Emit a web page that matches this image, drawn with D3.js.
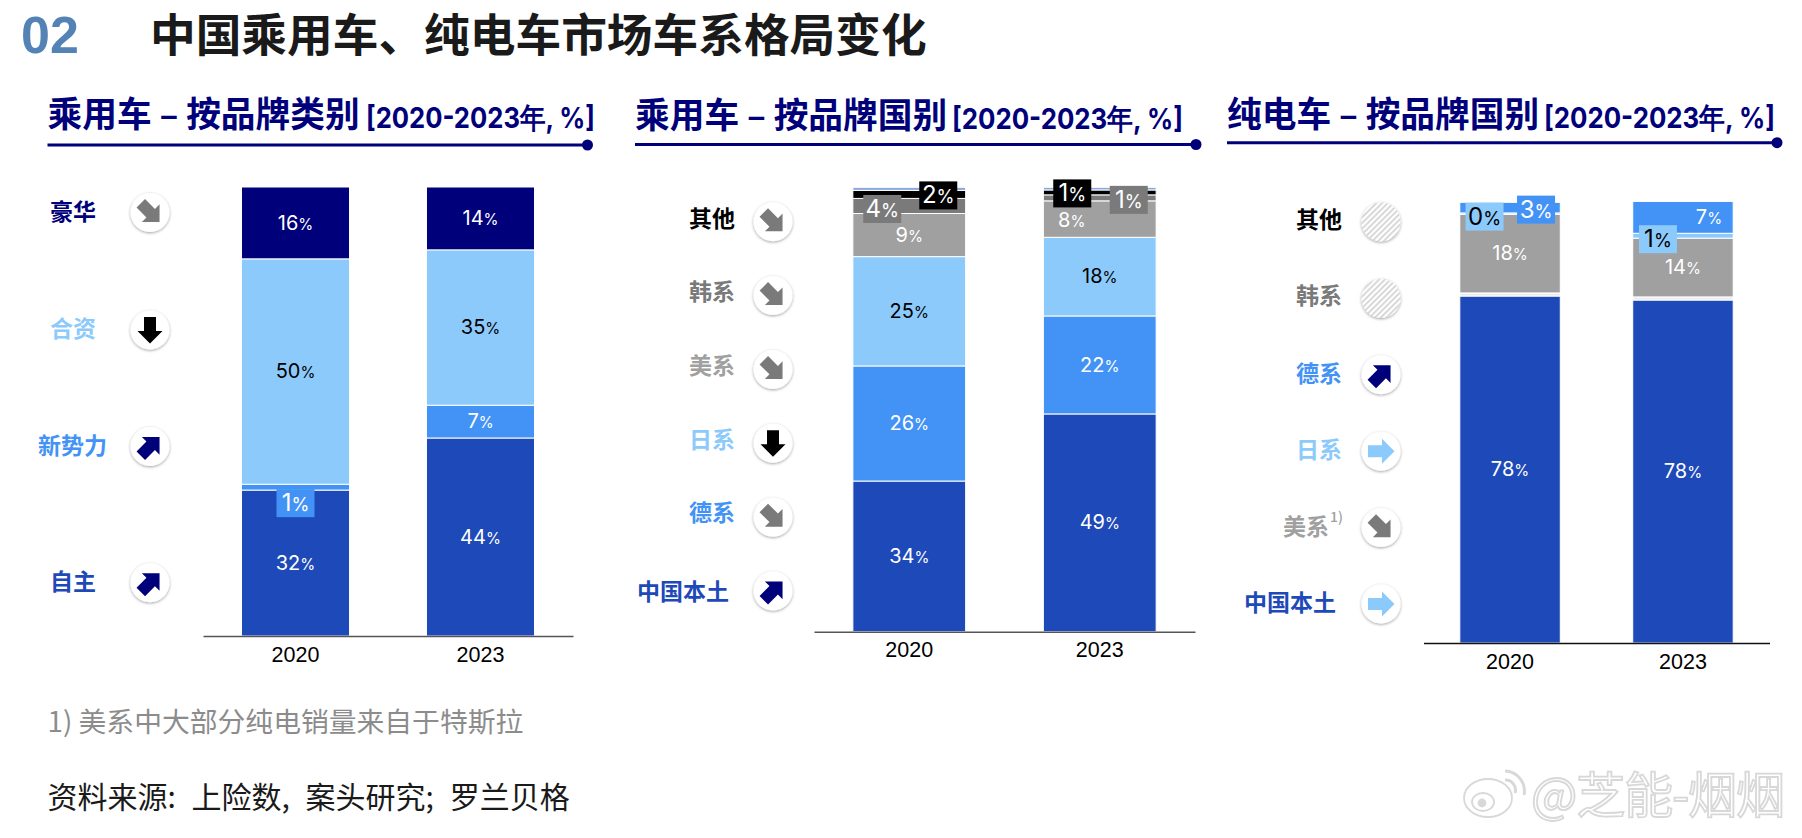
<!DOCTYPE html>
<html>
<head>
<meta charset="utf-8">
<script src="https://cdn.jsdelivr.net/npm/d3@7"></script>
<style>
  html, body { margin: 0; padding: 0; background: #fff; }
  svg { display: block; }
  text { font-family: "Noto Sans CJK SC", sans-serif; }
  .pct { font-family: Inter, sans-serif; }
  .year { font-family: "Liberation Sans", sans-serif; font-size: 21.5px; fill: #000; }
</style>
</head>
<body>
<div id="chart"></div>
<script>
// Data: shares in percent, bottom segment first
const years = ['2020', '2023'];

// Passenger cars by brand type
const typeNames = ['自主', '新势力', '合资', '豪华'];
const typeOwn = [32.5, 44.1];
const typeNew = [1.3, 7.3];
const typeJv = [50.2, 34.6];
const typeLuxury = [16.0, 14.0];
const typeLabels = [['32', '1', '50', '16'], ['44', '7', '35', '14']];

// Passenger cars by brand country
const carNames = ['中国本土', '德系', '日系', '美系', '韩系', '其他', '边缘'];
const carChina = [33.9, 49.0];
const carGerman = [25.9, 22.05];
const carJapan = [24.6, 17.7];
const carUs = [9.7, 8.2];
const carKorea = [3.4, 1.35];
const carOther = [1.8, 1.1];
const carEdge = [0.7, 0.6];
const carLabels = [['34', '26', '25', '9', '4', '2', ''], ['49', '22', '18', '8', '1', '1', '']];

// Battery electric cars by brand country
const evNames = ['中国本土', '间隙', '美系', '日系', '德系'];
const evChina = [78.5, 77.6];
const evGap = [0.7, 0.7];
const evUs = [17.8, 13.3];
const evJapan = [0.3, 1.1];
const evGerman = [2.4, 7.2];
const evLabels = [['78', '', '18', '0', '3'], ['78', '', '14', '1', '7']];

// Trend icons
const NAVY = '#00007a', DARK = '#1e49b8', BLUE = '#4293f5', SKY = '#8ccafb';
const GREY = '#a0a0a0', SLATE = '#7a7a7a', BLACK = '#000';
const UP = -45, FALL = 45, DROP = 90, FLAT = 0;

const panels = [
  {
    title: '乘用车 – 按品牌类别', unit: '[2020-2023年, %]',
    titleX: 47.5, titleY: 115, unitX: 366, unitW: 229,
    ruleY: 145, ruleEnd: 587.5,
    axis: [203, 573], baseline: 636, top: 187, padInner: 0.416, padOuter: 0.208, axisColor: '#555',
    series: typeNames,
    values: [typeOwn, typeNew, typeJv, typeLuxury],
    labels: typeLabels,
    colors: [DARK, BLUE, SKY, NAVY],
    inks: ['#fff', '#fff', '#000', '#fff'],
    callouts: [{year: 0, seg: 1, dx: 0, dy: 16, box: true}],
    legendX: 150, legendText: 96,
    legend: [
      {name: '豪华', y: 212.5, color: NAVY, turn: FALL, ink: SLATE},
      {name: '合资', y: 330, color: SKY, turn: DROP, ink: BLACK},
      {name: '新势力', y: 446.5, color: BLUE, turn: UP, ink: NAVY, x: 107},
      {name: '自主', y: 582.7, color: DARK, turn: UP, ink: NAVY}
    ]
  },
  {
    title: '乘用车 – 按品牌国别', unit: '[2020-2023年, %]',
    titleX: 635, titleY: 116, unitX: 952, unitW: 231,
    ruleY: 144.5, ruleEnd: 1196,
    axis: [814, 1195], baseline: 631.7, top: 187.3, padInner: 0.408, padOuter: 0.204, axisColor: '#555',
    series: carNames,
    values: [carChina, carGerman, carJapan, carUs, carKorea, carOther, carEdge],
    labels: carLabels,
    colors: [DARK, BLUE, SKY, GREY, SLATE, BLACK, '#8aa9dd'],
    inks: ['#fff', '#fff', '#000', '#fff', '#fff', '#fff', '#fff'],
    callouts: [
      {year: 0, seg: 5, dx: 29, dy: 1, box: true},
      {year: 0, seg: 4, dx: -27, dy: 3, box: true},
      {year: 1, seg: 5, dx: -27.5, dy: 1, box: true},
      {year: 1, seg: 4, dx: 29, dy: 2, box: true},
      {year: 1, seg: 3, dx: -28, dy: 1}
    ],
    legendX: 773, legendText: 735,
    legendRange: [221.7, 591],
    legend: [
      {name: '其他', color: BLACK, turn: FALL, ink: SLATE, lift: 3},
      {name: '韩系', color: SLATE, turn: FALL, ink: SLATE, lift: 4},
      {name: '美系', color: GREY, turn: FALL, ink: SLATE, lift: 4.5},
      {name: '日系', color: SKY, turn: DROP, ink: BLACK, lift: 4},
      {name: '德系', color: BLUE, turn: FALL, ink: SLATE, lift: 5},
      {name: '中国本土', color: DARK, turn: UP, ink: NAVY, x: 729, lift: 0}
    ]
  },
  {
    title: '纯电车 – 按品牌国别', unit: '[2020-2023年, %]',
    titleX: 1227, titleY: 114.5, unitX: 1544, unitW: 231,
    ruleY: 142.7, ruleEnd: 1777,
    axis: [1423.5, 1769.5], baseline: 643, top: 201, padInner: 0.419, padOuter: 0.21, axisColor: '#111',
    series: evNames,
    values: [evChina, evGap, evUs, evJapan, evGerman],
    labels: evLabels,
    colors: [DARK, '#ececec', GREY, SKY, BLUE],
    inks: ['#fff', '#fff', '#fff', '#000', '#fff'],
    callouts: [
      {year: 0, seg: 3, dx: -25.5, dy: 3, box: true},
      {year: 0, seg: 4, dx: 26, dy: 2, box: true},
      {year: 1, seg: 3, dx: -25, dy: 3.5, box: true},
      {year: 1, seg: 4, dx: 26, dy: 0}
    ],
    legendX: 1381, legendText: 1342,
    legendRange: [222, 604],
    legend: [
      {name: '其他', color: BLACK, lift: 3},
      {name: '韩系', color: SLATE, lift: 3},
      {name: '德系', color: BLUE, turn: UP, ink: NAVY},
      {name: '日系', color: SKY, turn: FLAT, ink: SKY},
      {name: '美系', color: GREY, turn: FALL, ink: SLATE, x: 1329, note: '1)'},
      {name: '中国本土', color: DARK, turn: FLAT, ink: SKY, x: 1336}
    ]
  }
];

const svg = d3.select('#chart').append('svg').attr('width', 1802).attr('height', 838);

// Shared shadow and hatch used by the legend discs
const defs = svg.append('defs');
defs.append('filter').attr('id', 'disc').attr('x', '-30%').attr('y', '-30%')
    .attr('width', '160%').attr('height', '160%')
  .append('feDropShadow').attr('dx', 0).attr('dy', 1).attr('stdDeviation', 1.8)
    .attr('flood-color', '#000').attr('flood-opacity', 0.38);
const hatch = defs.append('pattern').attr('id', 'hatch').attr('patternUnits', 'userSpaceOnUse')
    .attr('width', 4).attr('height', 4).attr('patternTransform', 'rotate(-45)');
hatch.append('rect').attr('width', 4).attr('height', 4).attr('fill', '#fff');
hatch.append('rect').attr('width', 4).attr('height', 1.7).attr('fill', '#d2d2d2');

// Block arrow pointing right, turned for each trend
const arrowPath = 'M-13,-6H1V-12.5L13.5,0L1,12.5V6H-13Z';

/* Page heading, footnote and source line */
function drawHeader() {
  svg.append('text').attr('x', 21).attr('y', 53).text('02')
    .style('font-family', '"Liberation Sans", sans-serif')
    .style('font-size', '52px').style('font-weight', 700).attr('fill', '#5383b5');
  svg.append('text').attr('x', 150).attr('y', 52).text('中国乘用车、纯电车市场车系格局变化')
    .style('font-size', '45.7px').style('font-weight', 700).attr('fill', '#1a1a1a');
  svg.append('text').attr('x', 47.5).attr('y', 732).text('1) 美系中大部分纯电销量来自于特斯拉')
    .style('font-size', '27.8px').attr('fill', '#8c8c8c');
  svg.append('text').attr('x', 47.5).attr('y', 808).text('资料来源: 上险数, 案头研究; 罗兰贝格')
    .style('font-size', '30px').style('word-spacing', '9px').attr('fill', '#1a1a1a');
}

/* One panel: title, rule, legend column and stacked bars */
function drawPanel(p) {
  const g = svg.append('g');

  g.append('text').attr('x', p.titleX).attr('y', p.titleY + 12).text(p.title)
    .style('font-size', '34.7px').style('font-weight', 700).attr('fill', NAVY);
  g.append('text').attr('x', p.unitX).attr('y', p.titleY + 13).text(p.unit)
    .attr('textLength', p.unitW).attr('lengthAdjust', 'spacingAndGlyphs')
    .style('font-family', 'Inter, sans-serif')
    .style('font-size', '29px').style('font-weight', 700).attr('fill', NAVY);
  g.append('line').attr('x1', p.titleX).attr('x2', p.ruleEnd).attr('y1', p.ruleY).attr('y2', p.ruleY)
    .attr('stroke', NAVY).attr('stroke-width', 3);
  g.append('circle').attr('cx', p.ruleEnd).attr('cy', p.ruleY).attr('r', 5.5).attr('fill', NAVY);

  const x = d3.scaleBand().domain(years).range(p.axis)
    .paddingInner(p.padInner).paddingOuter(p.padOuter);
  const y = d3.scaleLinear().domain([0, 100]).range([p.baseline, p.top]);

  // Build a table the stack layout can read
  const table = years.map((year, i) => {
    const row = {year};
    p.series.forEach((s, k) => { row[s] = p.values[k][i]; });
    return row;
  });
  const layers = d3.stack().keys(p.series)(table);

  g.append('g').selectAll('g').data(layers).join('g')
      .attr('fill', (d, k) => p.colors[k])
    .selectAll('rect').data(d => d).join('rect')
      .attr('x', d => x(d.data.year))
      .attr('width', x.bandwidth())
      .attr('y', d => y(d[1]))
      .attr('height', d => y(d[0]) - y(d[1]))
      .attr('stroke', '#fff').attr('stroke-width', 1);

  const axis = d3.axisBottom(x).tickSize(0).tickPadding(10.5);
  const axisG = g.append('g').attr('transform', `translate(0,${p.baseline})`).call(axis);
  axisG.select('.domain').attr('stroke', p.axisColor).attr('stroke-width', 1.5);
  axisG.selectAll('text').attr('class', 'year').attr('fill', '#000');

  // Segment labels, some of them moved aside or boxed where the slice is thin
  layers.forEach((layer, k) => {
    layer.forEach((d, i) => {
      const text = p.labels[i][k];
      if (!text) return;
      const c = p.callouts.find(o => o.year === i && o.seg === k) || {dx: 0, dy: 0};
      const cx = x(d.data.year) + x.bandwidth() / 2 + c.dx;
      const cy = y((d[0] + d[1]) / 2) + c.dy;
      if (c.box) {
        g.append('rect').attr('x', cx - 19).attr('y', cy - 14).attr('width', 38).attr('height', 28)
          .attr('fill', p.colors[k] === GREY ? SLATE : p.colors[k]);
      }
      const size = c.box ? 24 : 20;
      const label = g.append('text').attr('class', 'pct')
        .attr('x', cx).attr('y', cy).attr('dy', '0.33em').attr('text-anchor', 'middle')
        .attr('fill', p.inks[k]).style('font-size', `${size}px`);
      label.append('tspan').text(text);
      label.append('tspan').text('%').style('font-size', `${size * 0.76}px`);
    });
  });

  // Legend column, evenly spaced where the source is
  const slot = p.legendRange
    ? d3.scalePoint().domain(p.legend.map(d => d.name)).range(p.legendRange)
    : null;
  p.legend.forEach(d => {
    const cy = slot ? slot(d.name) : d.y;
    const lift = d.lift === undefined ? 1.5 : d.lift;
    g.append('text').attr('x', d.x || p.legendText).attr('y', cy - lift).attr('dy', '0.38em')
      .attr('text-anchor', 'end').text(d.name)
      .style('font-size', '23px').style('font-weight', 700).attr('fill', d.color);
    if (d.note) {
      g.append('text').attr('x', d.x + 1).attr('y', cy - 6).text(d.note)
        .style('font-size', '14px').style('font-weight', 500).attr('fill', d.color);
    }
    g.append('circle').attr('cx', p.legendX).attr('cy', cy).attr('r', 19.5)
      .attr('fill', d.ink ? '#fff' : 'url(#hatch)').attr('filter', 'url(#disc)');
    if (d.ink) {
      g.append('path').attr('d', arrowPath).attr('fill', d.ink)
        .attr('transform', `translate(${p.legendX},${cy}) rotate(${d.turn})`);
    }
  });
}

/* Faint repost mark in the lower right corner */
function drawWatermark() {
  const w = svg.append('g').attr('fill', '#fff').attr('stroke', '#d8d8d8').attr('stroke-width', 1.8);
  w.append('ellipse').attr('cx', 1488).attr('cy', 798).attr('rx', 24).attr('ry', 19);
  w.append('ellipse').attr('cx', 1483).attr('cy', 802).attr('rx', 11).attr('ry', 9);
  w.append('circle').attr('cx', 1482).attr('cy', 803).attr('r', 3.5).attr('fill', '#d8d8d8');
  w.append('path').attr('fill', 'none').attr('stroke-width', 3)
    .attr('d', 'M1505,771a20,20 0 0 1 19,24M1505,780a10,10 0 0 1 10,13');
  w.append('text').attr('x', 1531).attr('y', 813).text('@芝能-烟烟')
    .style('font-size', '49px').style('font-weight', 400)
    .attr('textLength', 254).attr('lengthAdjust', 'spacing');
}

drawHeader();
panels.forEach(drawPanel);
drawWatermark();
</script>
</body>
</html>
